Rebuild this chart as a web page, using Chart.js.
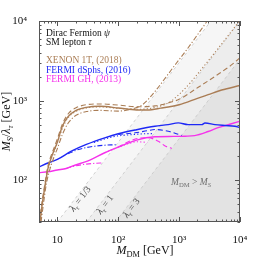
<!DOCTYPE html>
<html>
<head>
<meta charset="utf-8">
<script src="https://cdn.jsdelivr.net/npm/chart.js@4.4.0/dist/chart.umd.min.js"></script>
<style>body{margin:0;background:#fff}</style>
</head>
<body>
<canvas id="myChart" width="262" height="259"></canvas>
<script>
// axis ranges and tick labels
var xRange = [5, 10000];
var yRange = [30, 10000];
var xTickValues = [10, 100, 1000, 10000];
var xTickLabels = ['10', '10²', '10³', '10⁴'];
var yTickValues = [100, 1000, 10000];
var yTickLabels = ['10²', '10³', '10⁴'];
var lambdas = [1/3, 1, 3];
var lambdaLabels = ['1/3', '1', '3'];

// XENON 1T (2018)  [M_DM, M_S/lambda]
var xenonSolid = [[5.2,30],[5.6,48],[6.2,80],[7,140],[8,195],[9,245],[10,300],[12,470],[15,630],[20,750],[30,825],[50,850],[100,810],[200,765],[300,765],[500,805],[1000,890],[2000,1070],[3000,1190],[5000,1360],[10000,1550]];
var xenonLam13 = [[5.4,30],[5.9,50],[6.6,90],[7.6,140],[9,205],[10,250],[12,370],[15,520],[20,650],[30,730],[50,755],[100,740],[150,770],[250,890],[400,1300],[600,1950],[900,2950],[1300,4250],[2000,6700],[2900,10000]];
var xenonLam1 = [[5.3,30],[5.8,55],[6.5,100],[7.5,160],[9,240],[10,295],[12,440],[15,610],[20,730],[30,810],[50,835],[100,800],[200,780],[300,790],[500,860],[700,960],[1000,1200],[1500,1650],[2000,2150],[3000,3150],[5000,5150],[10000,10200]];
var xenonLam3 = [[5.1,30],[5.5,48],[6,75],[7,150],[8,210],[9,265],[10,330],[12,500],[15,680],[20,810],[30,890],[50,910],[100,880],[200,840],[400,860],[700,950],[1000,1040],[2000,1450],[4000,2050],[7000,2750],[10000,3450]];

// FERMI dSphs (2016)
var dsphSolid = [[5,147],[7,165],[10,183],[17,232],[30,282],[60,341],[100,384],[200,432],[400,477],[660,500],[970,526],[1400,501],[2350,501],[2660,524],[3880,501],[5660,488],[8260,477],[10000,458]];
var dsphLam13 = [[15,215],[20,238],[30,258],[41,268],[60,276],[80,279],[93,280]];
var dsphLam1 = [[40,298],[60,330],[87,356],[150,372],[211,380],[282,385],[380,386]];
var dsphLam3 = [[100,378],[190,395],[300,420],[402,434],[664,413],[970,378],[1100,366]];

// FERMI GH (2013)
var ghSolid = [[5,125],[7,128],[10,135],[14,141],[18,152],[32,176],[60,222],[112,270],[200,320],[400,352],[800,356],[1250,358],[1800,364],[3000,410],[4360,458],[7000,510],[10000,552]];
var ghLam13 = [[14,141],[20,152],[30,160],[44,164],[55,165]];
var ghLam1 = [[60,222],[87,250],[150,290],[211,305],[260,302],[300,300]];
var ghLam3 = [[100,262],[190,330],[312,342],[455,309],[600,268],[755,252]];

var brown = 'rgb(170,125,85)';
var blue = 'rgb(30,40,245)';
var magenta = 'rgb(245,50,235)';
var shade = ['#f6f6f6', '#ededed', '#e3e3e3'];
var serif = '"Liberation Serif", "DejaVu Serif", serif';

function curve(pts, color, dash, width) {
    return {
        data: pts.map(function(p) { return {x: p[0], y: p[1]}; }),
        borderColor: color, borderWidth: width, borderDash: dash,
        pointRadius: 0, fill: false, cubicInterpolationMode: 'monotone', order: 1
    };
}

function boundary(l, i) {
    return {
        data: xRange.map(function(m) { return {x: m, y: m / l}; }),
        borderColor: '#c6c6c6', borderWidth: 0.8, borderDash: [3, 3],
        backgroundColor: shade[i], fill: 'start', pointRadius: 0, order: 20 - i
    };
}

var dashed = [5, 3], dotted = [1.2, 2.2], dashDot = [5, 2, 1.2, 2];

var datasets = [
    curve(xenonSolid, brown, [], 1.4),
    curve(xenonLam13, brown, dashDot, 1.1),
    curve(xenonLam1, brown, dotted, 1.1),
    curve(xenonLam3, brown, dashed, 1.1),
    curve(dsphSolid, blue, [], 1.4),
    curve(dsphLam13, blue, dashDot, 1.1),
    curve(dsphLam1, blue, dotted, 1.1),
    curve(dsphLam3, blue, dashed, 1.1),
    curve(ghSolid, magenta, [], 1.4),
    curve(ghLam13, magenta, dashDot, 1.1),
    curve(ghLam1, magenta, dotted, 1.1),
    curve(ghLam3, magenta, dashed, 1.1)
];
lambdas.forEach(function(l, i) { datasets.push(boundary(l, i)); });

// text with italic parts and subscripts; style: r, i, sr, si
function rich(ctx, parts, x, y, size, align) {
    var items = [], w = 0;
    parts.forEach(function(p) {
        var sub = p[1].charAt(0) === 's';
        var fs = sub ? size * 0.7 : size;
        var font = (p[1].indexOf('i') >= 0 ? 'italic ' : '') + fs + 'px ' + serif;
        ctx.font = font;
        var pw = ctx.measureText(p[0]).width;
        items.push({t: p[0], font: font, w: pw, dy: sub ? size * 0.25 : 0});
        w += pw;
    });
    var cx = align === 'center' ? x - w / 2 : x;
    items.forEach(function(it) {
        ctx.font = it.font;
        ctx.fillText(it.t, cx, y + it.dy);
        cx += it.w;
    });
}

function minorValues(r) {
    var out = [];
    for (var n = Math.floor(Math.log10(r[0])); n <= Math.ceil(Math.log10(r[1])); n++) {
        for (var k = 1; k <= 9; k++) {
            var v = k * Math.pow(10, n);
            if (v >= r[0] * 0.999 && v <= r[1] * 1.001) out.push([v, k === 1]);
        }
    }
    return out;
}

var decorations = {
    id: 'decorations',
    afterDraw: function(chart) {
        var ctx = chart.ctx, a = chart.chartArea;
        var sx = chart.scales.x, sy = chart.scales.y;
        ctx.save();
        ctx.textBaseline = 'alphabetic';
        ctx.textAlign = 'left';

        // frame with inward ticks
        ctx.strokeStyle = '#555';
        ctx.lineWidth = 1;
        ctx.strokeRect(a.left + 0.5, a.top + 0.5, a.right - a.left - 1, a.bottom - a.top - 1);
        ctx.beginPath();
        minorValues(xRange).forEach(function(t) {
            var p = Math.round(sx.getPixelForValue(t[0])) + 0.5, len = t[1] ? 5 : 2.5;
            ctx.moveTo(p, a.bottom); ctx.lineTo(p, a.bottom - len);
            ctx.moveTo(p, a.top); ctx.lineTo(p, a.top + len);
        });
        minorValues(yRange).forEach(function(t) {
            var p = Math.round(sy.getPixelForValue(t[0])) + 0.5, len = t[1] ? 5 : 2.5;
            ctx.moveTo(a.left, p); ctx.lineTo(a.left + len, p);
            ctx.moveTo(a.right, p); ctx.lineTo(a.right - len, p);
        });
        ctx.stroke();

        // axis titles
        ctx.fillStyle = '#111';
        rich(ctx, [['M', 'i'], ['DM', 'sr'], [' [GeV]', 'r']], 145, 254, 12, 'center');
        ctx.save();
        ctx.translate(6, (a.top + a.bottom) / 2);
        ctx.rotate(-Math.PI / 2);
        rich(ctx, [['M', 'i'], ['S', 'si'], ['/', 'r'], ['λ', 'i'], ['τ', 'si'], [' [GeV]', 'r']], 0, 4, 12, 'center');
        ctx.restore();

        // legend text
        ctx.fillStyle = '#111';
        rich(ctx, [['Dirac Fermion ', 'r'], ['ψ', 'i']], 46, 35.5, 9.5, 'left');
        rich(ctx, [['SM lepton ', 'r'], ['τ', 'i']], 46, 44.8, 9.5, 'left');
        ctx.fillStyle = brown;
        rich(ctx, [['XENON 1T, (2018)', 'r']], 46, 63.3, 9.5, 'left');
        ctx.fillStyle = blue;
        rich(ctx, [['FERMI dSphs, (2016)', 'r']], 46, 72.8, 9.5, 'left');
        ctx.fillStyle = magenta;
        rich(ctx, [['FERMI GH, (2013)', 'r']], 46, 82.3, 9.5, 'left');

        // region label
        ctx.fillStyle = '#707070';
        rich(ctx, [['M', 'i'], ['DM', 'sr'], [' > ', 'r'], ['M', 'i'], ['S', 'si']], 191, 185, 9.5, 'center');

        // lambda labels along the boundaries
        var anchors = [21, 53.5, 145];
        ctx.fillStyle = '#444';
        lambdas.forEach(function(l, i) {
            var m = anchors[i];
            var px = sx.getPixelForValue(m), py = sy.getPixelForValue(m / l);
            var qx = sx.getPixelForValue(m * 2), qy = sy.getPixelForValue(m * 2 / l);
            var ang = Math.atan2(qy - py, qx - px);
            ctx.save();
            ctx.translate(px - Math.sin(ang) * 4, py + Math.cos(ang) * 4);
            ctx.rotate(ang);
            rich(ctx, [['λ', 'i'], ['τ', 'si'], [' = ' + lambdaLabels[i], 'r']], 0, 3, 9.5, 'center');
            ctx.restore();
        });
        ctx.restore();
    }
};

var ctx = document.getElementById('myChart').getContext('2d');
var myChart = new Chart(ctx, {
    type: 'line',
    data: { datasets: datasets },
    options: {
        responsive: false,
        animation: false,
        layout: { padding: { top: 21, right: 22, left: 0, bottom: 0 } },
        plugins: { legend: { display: false }, tooltip: { enabled: false } },
        scales: {
            x: {
                type: 'logarithmic', min: xRange[0], max: xRange[1],
                grid: { display: false }, border: { display: false },
                afterBuildTicks: function(s) { s.ticks = xTickValues.map(function(v) { return {value: v}; }); },
                afterFit: function(s) { s.height = 37; },
                ticks: {
                    padding: 4, maxRotation: 0, autoSkip: false, color: '#111',
                    font: { family: serif, size: 11 },
                    callback: function(v) { var i = xTickValues.indexOf(v); return i >= 0 ? xTickLabels[i] : ''; }
                }
            },
            y: {
                type: 'logarithmic', min: yRange[0], max: yRange[1],
                grid: { display: false }, border: { display: false },
                afterBuildTicks: function(s) { s.ticks = yTickValues.map(function(v) { return {value: v}; }); },
                afterFit: function(s) { s.width = 39; },
                ticks: {
                    padding: 4, autoSkip: false, color: '#111',
                    font: { family: serif, size: 11 },
                    callback: function(v) { var i = yTickValues.indexOf(v); return i >= 0 ? yTickLabels[i] : ''; }
                }
            }
        }
    },
    plugins: [decorations]
});
</script>
</body>
</html>
